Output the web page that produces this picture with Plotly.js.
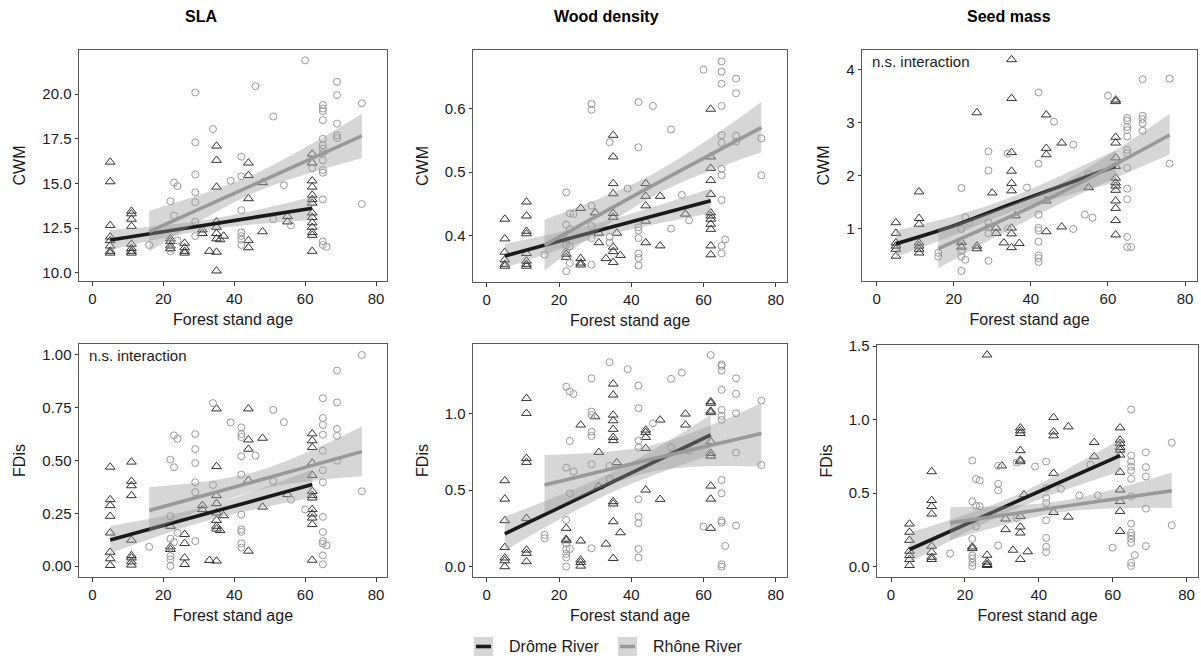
<!DOCTYPE html>
<html>
<head>
<meta charset="utf-8">
<script src="https://cdn.plot.ly/plotly-3.0.1.min.js"></script>
<style>html,body{margin:0;padding:0;background:#fff}#chart{width:1201px;height:659px}</style>
</head>
<body>
<div id="chart"></div>
<script>
// ---------------- DATA ----------------
const traitTitles = ['SLA', 'Wood density', 'Seed mass'];
const seriesNames = ['Drôme River', 'Rhône River'];
const xTitle = 'Forest stand age';
const xTickVals = [0, 20, 40, 60, 80];

const ySlaCwmTicks = [10, 12.5, 15, 17.5, 20];
const ySlaCwmLabels = ['10.0', '12.5', '15.0', '17.5', '20.0'];
const yWdCwmTicks = [0.4, 0.5, 0.6];
const yWdCwmLabels = ['0.4', '0.5', '0.6'];
const ySmCwmTicks = [1, 2, 3, 4];
const ySmCwmLabels = ['1', '2', '3', '4'];
const ySlaFdisTicks = [0, 0.25, 0.5, 0.75, 1];
const ySlaFdisLabels = ['0.00', '0.25', '0.50', '0.75', '1.00'];
const yWdFdisTicks = [0, 0.5, 1];
const yWdFdisLabels = ['0.0', '0.5', '1.0'];
const ySmFdisTicks = [0, 0.5, 1, 1.5];
const ySmFdisLabels = ['0.0', '0.5', '1.0', '1.5'];

// points: [stand age, [values]]
const slaCwmDrome = [[5,[16.2,15.1,12.65,12.0,11.8,11.5,11.2,11.1]],[11,[13.45,13.3,13.0,12.6,11.6,11.35,11.2,11.1]],[22,[11.9,11.75,11.5,11.35]],[26,[11.65,11.4,11.2,11.1]],[31,[12.4,12.2]],[33,[11.2]],[35,[17.1,16.3,14.8,12.85,12.55,12.2,11.9,11.15,10.1]],[36,[11.85]],[37,[12.05]],[44,[16.15,15.45,14.15,11.8,11.4]],[48,[15.05,12.3]],[55,[13.15,12.85]],[62,[16.65,16.15,15.15,14.8,14.35,14.1,13.9,13.35,13.1,12.8,12.55,12.25,12.1,11.2]]];
const slaCwmRhone = [[16,[11.55]],[22,[14.0,11.65,11.35,11.2]],[23,[15.05,13.2]],[24,[14.85,11.8]],[29,[20.1,17.3,15.5,14.5,13.95,12.85,12.05]],[34,[18.05]],[39,[15.15]],[42,[16.5,15.4,13.5,12.25,12.05,11.85,11.55]],[46,[20.45]],[51,[18.75,13.0]],[54,[14.9]],[56,[12.65]],[60,[21.9]],[62,[15.85]],[65,[19.4,19.2,19.05,18.55,17.5,17.15,16.95,16.7,16.3,15.75,15.6,14.1,11.75,11.55]],[66,[11.45]],[69,[20.7,19.95,18.35,17.7,17.55]],[76,[19.5,13.85]]];

const wdCwmDrome = [[5,[0.426,0.395,0.374,0.362,0.355,0.352]],[11,[0.453,0.431,0.407,0.403,0.372,0.36,0.355,0.352]],[22,[0.371,0.366]],[26,[0.443,0.364,0.357,0.354]],[30,[0.436]],[31,[0.404,0.389]],[33,[0.364]],[35,[0.558,0.524,0.482,0.466,0.435,0.429,0.382,0.375,0.358]],[36,[0.404]],[37,[0.369]],[44,[0.482,0.462,0.447,0.423,0.389]],[48,[0.462,0.384]],[55,[0.434]],[62,[0.599,0.524,0.506,0.487,0.465,0.436,0.431,0.426,0.418,0.41,0.384,0.37]]];
const wdCwmRhone = [[16,[0.37]],[22,[0.468,0.417,0.394,0.385,0.374,0.344]],[23,[0.435,0.41,0.383,0.357]],[24,[0.434]],[29,[0.607,0.598,0.447,0.415,0.396,0.354]],[34,[0.547,0.398,0.389]],[39,[0.474]],[42,[0.61,0.539,0.413,0.408,0.396,0.372,0.365,0.353]],[46,[0.604]],[51,[0.567,0.411]],[54,[0.464]],[56,[0.424]],[60,[0.661]],[65,[0.674,0.658,0.639,0.604,0.558,0.546,0.505,0.495,0.456,0.384,0.372]],[66,[0.394]],[69,[0.647,0.624,0.557,0.548]],[76,[0.553,0.495]]];

const smCwmDrome = [[5,[1.12,0.92,0.74,0.68,0.62,0.49]],[11,[1.7,1.2,1.09,0.74,0.68,0.62,0.55]],[22,[0.75,0.66]],[26,[3.19,0.68,0.63]],[30,[1.68]],[31,[1.02,0.92]],[33,[0.74]],[35,[4.19,3.46,2.44,2.09,1.86,1.72,1.02,0.91,0.65]],[36,[1.25]],[37,[0.73]],[44,[3.15,2.52,2.4,1.53,0.95]],[48,[2.62,1.04]],[55,[1.78]],[62,[3.43,3.4,2.73,2.62,2.34,2.18,1.96,1.87,1.81,1.73,1.53,1.39,1.16,0.89]]];
const smCwmRhone = [[16,[0.55,0.48]],[22,[1.77,1.0,0.69,0.59,0.48,0.21]],[23,[1.22,0.42]],[24,[1.12]],[29,[2.46,2.1,1.12,1.03,0.92,0.4]],[34,[2.42,1.0]],[39,[1.78]],[42,[3.57,2.23,1.27,1.02,0.97,0.76,0.5,0.45,0.38]],[46,[3.02]],[51,[2.59,1.0]],[54,[1.27]],[55,[2.03]],[56,[1.21]],[60,[3.51]],[65,[3.09,3.04,2.92,2.86,2.74,2.49,2.43,2.15,1.76,1.56,0.85,0.66]],[66,[0.66]],[69,[3.82,3.13,3.07,2.99,2.85]],[76,[3.83,2.23]]];

const slaFdisDrome = [[5,[0.469,0.315,0.287,0.236,0.157,0.066,0.035,0.003]],[11,[0.493,0.402,0.381,0.334,0.123,0.05,0.039,0.02,0.005]],[22,[0.189,0.091,0.079]],[26,[0.15,0.107,0.039,0.008]],[31,[0.287,0.268]],[33,[0.027]],[35,[0.745,0.472,0.334,0.296,0.252,0.217,0.189,0.176,0.024]],[36,[0.169]],[37,[0.239]],[44,[0.745,0.598,0.554,0.406,0.071]],[48,[0.606,0.28]],[55,[0.339]],[62,[0.627,0.594,0.562,0.488,0.43,0.354,0.335,0.323,0.268,0.247,0.228,0.197,0.028]]];
const slaFdisRhone = [[16,[0.091]],[22,[0.504,0.236,0.129,0.087,0.047,0.031,0.0]],[23,[0.619,0.468,0.113]],[24,[0.603,0.157]],[29,[0.625,0.554,0.488,0.397,0.35,0.118]],[34,[0.772,0.384]],[39,[0.68]],[42,[0.657,0.625,0.611,0.52,0.433,0.244,0.173,0.162,0.107,0.087]],[46,[0.523]],[51,[0.74,0.402]],[54,[0.682]],[56,[0.315]],[60,[0.268]],[65,[0.795,0.701,0.669,0.622,0.546,0.454,0.397,0.233,0.161,0.118,0.106,0.05,0.008]],[66,[0.098]],[69,[0.926,0.775,0.65,0.617,0.499]],[76,[1.0,0.354]]];

const wdFdisDrome = [[5,[0.562,0.442,0.301,0.126,0.057,0.039,0.0]],[11,[1.1,1.002,0.708,0.682,0.316,0.109,0.087,0.033]],[22,[0.251,0.179,0.17]],[26,[0.926,0.168,0.044,0.028,0.004]],[30,[0.98]],[31,[0.747,0.523]],[33,[0.148]],[35,[1.194,1.122,0.991,0.954,0.898,0.845,0.824,0.425,0.41,0.294,0.054]],[36,[0.68]],[37,[0.222]],[44,[0.893,0.878,0.845,0.773,0.501]],[48,[0.959,0.44]],[55,[0.998,0.926]],[62,[1.078,1.068,1.017,1.007,0.817,0.741,0.723,0.527,0.442,0.251]]];
const wdFdisRhone = [[16,[0.207,0.185]],[22,[1.176,0.647,0.305,0.153,0.113,0.083,0.059,0.0]],[23,[1.144,0.821,0.479,0.115]],[24,[1.129,0.621]],[29,[1.231,1.013,0.991,0.882,0.854,0.669,0.12]],[34,[1.336,0.658,0.573]],[39,[1.29]],[42,[1.183,1.035,0.824,0.78,0.44,0.327,0.283,0.115,0.059]],[46,[0.937]],[51,[1.227,0.78]],[54,[1.268]],[56,[0.758]],[60,[0.261]],[62,[1.383]],[65,[1.322,1.312,1.281,1.155,1.024,0.985,0.959,0.566,0.479,0.301,0.288,0.015,0.0]],[66,[0.135]],[69,[1.231,1.129,1.002,0.745,0.268]],[76,[1.085,0.664]]];

const smFdisDrome = [[5,[0.291,0.235,0.18,0.106,0.077,0.05,0.009]],[11,[0.647,0.451,0.41,0.359,0.14,0.099,0.065,0.05]],[22,[0.135,0.124]],[26,[1.441,0.079,0.032,0.016,0.009]],[30,[0.686]],[31,[0.325,0.253]],[33,[0.113]],[35,[0.945,0.925,0.907,0.79,0.726,0.715,0.343,0.271,0.23,0.05]],[36,[0.49]],[37,[0.102]],[44,[1.015,0.918,0.891,0.636,0.37]],[48,[0.952,0.338]],[55,[0.846,0.749]],[62,[0.945,0.862,0.839,0.812,0.794,0.76,0.643,0.523,0.444,0.377,0.241]]];
const smFdisRhone = [[16,[0.09]],[22,[0.722,0.444,0.189,0.077,0.056,0.027,0.005]],[23,[0.596,0.415,0.275]],[24,[0.587,0.411]],[29,[0.686,0.564,0.519,0.144]],[34,[0.708,0.332]],[39,[0.681]],[42,[0.715,0.535,0.467,0.433,0.316,0.196,0.135,0.099]],[46,[0.53]],[51,[0.485]],[54,[0.693]],[56,[0.485]],[60,[0.129]],[65,[1.069,0.756,0.715,0.681,0.654,0.598,0.478,0.293,0.23,0.212,0.189,0.162,0.027,0.005]],[66,[0.079]],[69,[0.778,0.677,0.614,0.395,0.14]],[76,[0.844,0.282]]];

// fitted lines with confidence band: [age, fit, lower, upper]
const slaCwmDromeFit = [[5,11.83,11.27,12.39],[33,12.70,12.42,12.98],[62,13.61,12.95,14.26]];
const slaCwmRhoneFit = [[16,12.30,11.18,13.46],[46,14.98,14.50,15.55],[76,17.66,16.41,18.90]];
const wdCwmDromeFit = [[5,0.368,0.349,0.387],[33,0.411,0.400,0.423],[62,0.455,0.435,0.474]];
const wdCwmRhoneFit = [[16,0.385,0.345,0.425],[46,0.479,0.462,0.497],[76,0.570,0.531,0.610]];
const smCwmDromeFit = [[5,0.72,0.47,0.97],[20,1.06,0.88,1.24],[35,1.47,1.32,1.60],[62,2.18,1.88,2.48]];
const smCwmRhoneFit = [[16,0.63,0.26,1.00],[46,1.62,1.42,1.80],[76,2.77,2.40,3.17]];
const slaFdisDromeFit = [[5,0.123,0.060,0.190],[33,0.252,0.218,0.287],[62,0.386,0.323,0.457]];
const slaFdisRhoneFit = [[16,0.263,0.157,0.373],[46,0.402,0.357,0.447],[76,0.542,0.425,0.661]];
const wdFdisDromeFit = [[5,0.214,0.105,0.327],[35,0.555,0.490,0.620],[62,0.861,0.730,0.991]];
const wdFdisRhoneFit = [[16,0.534,0.349,0.730],[46,0.705,0.621,0.795],[76,0.870,0.654,1.068]];
const smFdisDromeFit = [[5,0.117,0.027,0.230],[33,0.432,0.385,0.478],[62,0.756,0.647,0.866]];
const smFdisRhoneFit = [[16,0.298,0.180,0.404],[46,0.408,0.370,0.447],[76,0.517,0.400,0.641]];

const noteText = 'n.s. interaction';

// ---------------- LAYOUT / DRAWING ----------------
const W = 1201, H = 659;
const FONT = '"Liberation Sans", Arial, sans-serif';
const px = v => v / W;
const py = v => 1 - v / H;

const panels = [
  {box:[79,387,50,281],   yr:[9.53,22.48],  yt:ySlaCwmTicks,  yl:ySlaCwmLabels,  ytitle:'CWM',  d:slaCwmDrome,  r:slaCwmRhone,  fd:slaCwmDromeFit,  fr:slaCwmRhoneFit},
  {box:[473,787,50,282],  yr:[0.327,0.692], yt:yWdCwmTicks,   yl:yWdCwmLabels,   ytitle:'CWM',  d:wdCwmDrome,   r:wdCwmRhone,   fd:wdCwmDromeFit,   fr:wdCwmRhoneFit},
  {box:[862,1197,50,281], yr:[0.02,4.37],   yt:ySmCwmTicks,   yl:ySmCwmLabels,   ytitle:'CWM',  d:smCwmDrome,   r:smCwmRhone,   fd:smCwmDromeFit,   fr:smCwmRhoneFit, note:true},
  {box:[79,387,344,577],  yr:[-0.052,1.052],yt:ySlaFdisTicks, yl:ySlaFdisLabels, ytitle:'FDis', d:slaFdisDrome, r:slaFdisRhone, fd:slaFdisDromeFit, fr:slaFdisRhoneFit, note:true},
  {box:[473,787,344,577], yr:[-0.068,1.455],yt:yWdFdisTicks,  yl:yWdFdisLabels,  ytitle:'FDis', d:wdFdisDrome,  r:wdFdisRhone,  fd:wdFdisDromeFit,  fr:wdFdisRhoneFit},
  {box:[877,1198,345,577],yr:[-0.07,1.508], yt:ySmFdisTicks,  yl:ySmFdisLabels,  ytitle:'FDis', d:smFdisDrome,  r:smFdisRhone,  fd:smFdisDromeFit,  fr:smFdisRhoneFit}
];

function flat(groups){
  const x = [], y = [];
  groups.forEach(g => g[1].forEach(v => { x.push(g[0]); y.push(v); }));
  return {x, y};
}
const col = (rows, i) => rows.map(r => r[i]);

const traces = [];
const layout = {
  width: W, height: H,
  margin: {l:0, r:0, t:0, b:0},
  paper_bgcolor: '#ffffff', plot_bgcolor: '#ffffff',
  font: {family: FONT, color: '#1a1a1a', size: 15},
  showlegend: false,
  annotations: [], shapes: []
};

const BAND = 'rgba(153,153,153,0.4)';
const DCOL = '#1a1a1a', RCOL = '#999999';

panels.forEach((p, i) => {
  const s = i === 0 ? '' : String(i + 1);
  const xa = 'x' + s, ya = 'y' + s;
  const dp = flat(p.d), rp = flat(p.r);
  traces.push({type:'scatter', mode:'markers', x:dp.x, y:dp.y, xaxis:xa, yaxis:ya, name:seriesNames[0],
    marker:{symbol:'triangle-up-open', size:8.5, color:'#333333', line:{width:1, color:'#333333'}}, hoverinfo:'x+y'});
  traces.push({type:'scatter', mode:'markers', x:rp.x, y:rp.y, xaxis:xa, yaxis:ya, name:seriesNames[1],
    marker:{symbol:'circle-open', size:7, color:'#9a9a9a', line:{width:1, color:'#9a9a9a'}}, hoverinfo:'x+y'});
  [[p.fd, DCOL, seriesNames[0]], [p.fr, RCOL, seriesNames[1]]].forEach(([f, c, nm]) => {
    const fx = col(f, 0);
    traces.push({type:'scatter', mode:'lines', x:fx, y:col(f, 2), xaxis:xa, yaxis:ya,
      line:{width:0, shape:'spline', color:'rgba(0,0,0,0)'}, hoverinfo:'skip', name:nm + ' lower'});
    traces.push({type:'scatter', mode:'lines', x:fx, y:col(f, 3), xaxis:xa, yaxis:ya, fill:'tonexty', fillcolor:BAND,
      line:{width:0, shape:'spline', color:'rgba(0,0,0,0)'}, hoverinfo:'skip', name:nm + ' upper'});
    traces.push({type:'scatter', mode:'lines', x:fx, y:col(f, 1), xaxis:xa, yaxis:ya,
      line:{width:3.6, shape:'spline', color:c}, name:nm});
  });
  const [x0, x1, y0, y1] = p.box;
  const common = {showgrid:false, zeroline:false, showline:true, mirror:true, linecolor:'#5a5a5a', linewidth:1,
    ticks:'outside', ticklen:3.5, tickwidth:1, tickcolor:'#333333', tickfont:{size:15, color:'#1a1a1a', family:FONT},
    automargin:false, fixedrange:true};
  layout['xaxis' + s] = Object.assign({}, common, {domain:[px(x0), px(x1)], anchor:ya, range:[-3.8, 83.1],
    tickmode:'array', tickvals:xTickVals, ticktext:xTickVals.map(String),
    title:{text:xTitle, font:{size:16, color:'#1a1a1a', family:FONT}, standoff:8}});
  layout['yaxis' + s] = Object.assign({}, common, {domain:[py(y1), py(y0)], anchor:xa, range:p.yr,
    tickmode:'array', tickvals:p.yt, ticktext:p.yl,
    title:{text:p.ytitle, font:{size:16, color:'#1a1a1a', family:FONT}, standoff:12}});
  if (p.note) {
    layout.annotations.push({xref:'paper', yref:'paper', x:px(x0 + 8), y:py(y0 + 11), xanchor:'left', yanchor:'middle',
      text:noteText, showarrow:false, font:{size:15, color:'#1a1a1a', family:FONT}});
  }
});

// facet titles
[201, 606, 1009].forEach((cx, k) => {
  layout.annotations.push({xref:'paper', yref:'paper', x:px(cx), y:py(17), xanchor:'center', yanchor:'middle',
    text:'<b>' + traitTitles[k] + '</b>', showarrow:false, font:{size:16, color:'#000000', family:FONT}});
});

// legend (bottom)
const legendItems = [
  {bx:474, tx:507, c:DCOL, label:seriesNames[0]},
  {bx:618, tx:651, c:RCOL, label:seriesNames[1]}
];
legendItems.forEach(it => {
  layout.shapes.push({type:'rect', xref:'paper', yref:'paper', x0:px(it.bx), x1:px(it.bx + 19), y0:py(656), y1:py(637),
    fillcolor:'#d6d6d6', line:{width:0}});
  layout.shapes.push({type:'line', xref:'paper', yref:'paper', x0:px(it.bx + 2), x1:px(it.bx + 17), y0:py(646.5), y1:py(646.5),
    line:{color:it.c, width:3.6}});
  layout.annotations.push({xref:'paper', yref:'paper', x:px(it.tx), y:py(646.5), xanchor:'left', yanchor:'middle',
    text:it.label, showarrow:false, font:{size:16, color:'#1a1a1a', family:FONT}});
});

Plotly.newPlot('chart', traces, layout, {displayModeBar:false, staticPlot:true});
</script>
</body>
</html>
